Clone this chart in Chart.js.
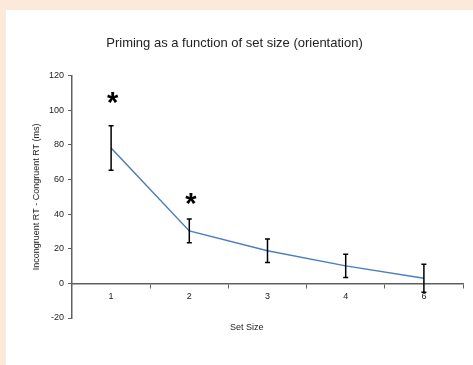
<!DOCTYPE html>
<html>
<head>
<meta charset="utf-8">
<script src="https://cdn.jsdelivr.net/npm/chart.js@4/dist/chart.umd.min.js"></script>
<style>
  html, body { margin: 0; padding: 0; background: #fde9d9; width: 473px; height: 365px; overflow: hidden; }
  #wrap { position: absolute; left: 6px; top: 10px; width: 467px; height: 355px; background: #ffffff; }
  canvas { display: block; }
</style>
</head>
<body>
<div id="wrap"><canvas id="c" width="467" height="355"></canvas></div>
<script>
const categories = ['1', '2', '3', '4', '6'];
const means = [78.2, 30.3, 18.8, 10.1, 3.0];
const errors = [12.8, 6.9, 6.8, 6.7, 8.1];
const stars = [107, 49, null, null, null];
const yTicks = [-20, 0, 20, 40, 60, 80, 100, 120];
const titleText = 'Priming as a function of set size (orientation)';
const yTitle = 'Incongruent RT - Congruent RT (ms)';
const xTitle = 'Set Size';

const FONT = '"Liberation Sans", Arial, sans-serif';

const extrasPlugin = {
  id: 'extras',
  afterDatasetsDraw(chart) {
    const ctx = chart.ctx;
    const xs = chart.scales.x, ys = chart.scales.y;
    ctx.save();
    // error bars
    ctx.strokeStyle = '#000000';
    ctx.lineWidth = 1.5;
    means.forEach((m, i) => {
      const x = xs.getPixelForValue(i);
      const yt = ys.getPixelForValue(m + errors[i]);
      const yb = ys.getPixelForValue(m - errors[i]);
      ctx.beginPath();
      ctx.moveTo(x, yt); ctx.lineTo(x, yb);
      ctx.moveTo(x - 2.5, yt); ctx.lineTo(x + 2.5, yt);
      ctx.moveTo(x - 2.5, yb); ctx.lineTo(x + 2.5, yb);
      ctx.stroke();
    });
    // significance stars
    ctx.fillStyle = '#000000';
    ctx.font = 'bold 100px ' + FONT;
    const m100 = ctx.measureText('*');
    const h100 = m100.actualBoundingBoxAscent + m100.actualBoundingBoxDescent;
    const size = 100 * 11 / h100;
    ctx.font = 'bold ' + size.toFixed(2) + 'px ' + FONT;
    ctx.textAlign = 'center';
    ctx.textBaseline = 'alphabetic';
    const mm = ctx.measureText('*');
    stars.forEach((s, i) => {
      if (s === null) return;
      const x = xs.getPixelForValue(i) + 1.5;
      const yc = ys.getPixelForValue(s);
      const base = yc + (mm.actualBoundingBoxAscent - mm.actualBoundingBoxDescent) / 2;
      ctx.fillText('*', x, base);
    });
    // x axis title
    ctx.font = '9px ' + FONT;
    ctx.fillStyle = '#222222';
    ctx.textBaseline = 'middle';
    ctx.fillText(xTitle, xs.left + (xs.right - xs.left) * 0.447, 318);
    ctx.restore();
  }
};

new Chart(document.getElementById('c'), {
  type: 'line',
  data: {
    labels: categories,
    datasets: [{
      data: means,
      borderColor: '#4a7ebf',
      borderWidth: 1.5,
      pointRadius: 0,
      tension: 0,
      fill: false
    }]
  },
  options: {
    responsive: false,
    animation: false,
    layout: { padding: { left: 0, right: 10, top: 0, bottom: 47 } },
    plugins: {
      legend: { display: false },
      tooltip: { enabled: false },
      title: {
        display: true,
        text: titleText,
        color: '#222222',
        font: { family: FONT, size: 13, weight: 'normal' },
        padding: { top: 26, bottom: 24 }
      }
    },
    scales: {
      x: {
        type: 'category',
        offset: true,
        position: { y: 0 },
        grid: { display: true, drawOnChartArea: false, drawTicks: true, tickLength: 4, offset: true, color: '#606060', lineWidth: 1 },
        border: { display: true, color: '#606060', width: 1.5 },
        ticks: { color: '#222222', font: { family: FONT, size: 9 }, padding: 4, maxRotation: 0 },
        title: { display: false }
      },
      y: {
        min: -20,
        max: 120,
        afterBuildTicks(scale) { scale.ticks = yTicks.map(v => ({ value: v })); },
        afterFit(scale) { scale.width = 66; },
        grid: { display: true, drawOnChartArea: false, drawTicks: true, tickLength: 4, color: '#606060' },
        border: { display: true, color: '#606060', width: 1.5 },
        ticks: { color: '#222222', font: { family: FONT, size: 9 }, padding: 4 },
        title: {
          display: true,
          text: yTitle,
          color: '#222222',
          font: { family: FONT, size: 9 },
          padding: { top: 25, bottom: 0 }
        }
      }
    }
  },
  plugins: [extrasPlugin]
});
</script>
</body>
</html>
